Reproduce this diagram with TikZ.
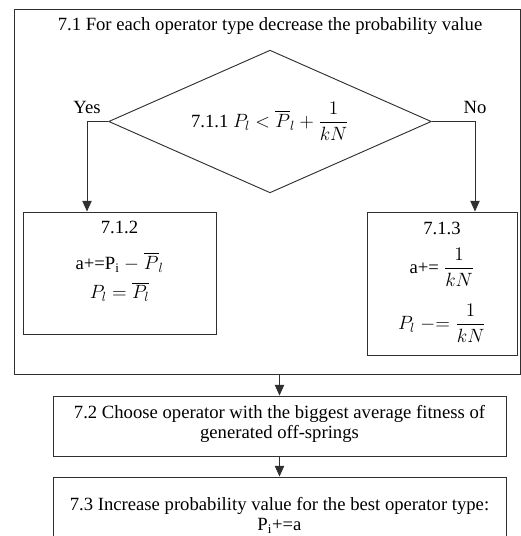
\documentclass[tikz,border=0pt]{standalone}
\usepackage{amsmath}
\usepackage{fontspec}
\setmainfont{Liberation Serif}
\usetikzlibrary{positioning, arrows.meta, shapes.geometric, fit, calc}
\definecolor{lineGrey}{HTML}{303030}

\begin{document}
\begin{tikzpicture}[x=0.75pt, y=-0.75pt, font=\fontsize{14}{15}\selectfont,
    box/.style={draw=lineGrey, line width=0.7pt, inner sep=0pt},
    txt/.style={align=center, inner sep=0pt},
    arr/.style={draw=lineGrey, line width=0.7pt, -{Triangle[length=8pt,width=7pt]}}]
    \useasboundingbox (0,0) rectangle (521,536);
    \clip (0,0) rectangle (521,536);

    % bloc 7.1
    \node[box, fit={(14,9) (520,374)}] (outer) {};
    \node[txt] (title) at (270,26) {7.1 For each operator type decrease the probability value};
    \node[draw=lineGrey, line width=0.7pt, diamond, aspect=2.3, inner sep=0pt,
      minimum width=242pt, minimum height=107pt] (cond) at (270,121.5)
      {7.1.1 $P_l < \overline{P}_l + \dfrac{1}{kN}$};

    % branches
    \node[box, fit={(23,212) (216,334)}] (yesbox) {};
    \node[txt, anchor=north] (yestxt) at (119.5,221)
      {7.1.2\\[12pt] a+=P$_\mathrm{i}$ $-$ $\overline{P}_l$\\[7pt] $P_l = \overline{P_l}$};
    \node[box, fit={(367,212) (517,355)}] (nobox) {};
    \node[txt, anchor=north] (notxt) at (442,222)
      {7.1.3\\[9pt] a+= $\dfrac{1}{kN}$\\[12pt] $P_l\;{-}{=}\;\dfrac{1}{kN}$};

    \coordinate (yescorner) at (87,121.5);
    \coordinate (nocorner) at (475,121.5);
    \draw[arr] (cond.west) -- (yescorner) -- (yescorner |- yesbox.north);
    \draw[arr] (cond.east) -- (nocorner) -- (nocorner |- nobox.north);
    \node[txt, above=6pt of yescorner] (yeslbl) {Yes};
    \node[txt, above=6pt of nocorner] (nolbl) {No};

    % blocs 7.2 et 7.3
    \node[box, fit={(53,396) (506,456)}] (choose) {};
    \node[txt] (choosetxt) at (279.5,424)
      {7.2 Choose operator with the biggest average fitness of\\ generated off-springs};
    \node[box, fit={(53,477) (506,570)}] (incr) {};
    \node[txt, anchor=north] (incrtxt) at (279.5,497)
      {7.3 Increase probability value for the best operator type:\\ P$_\mathrm{i}$+=a};

    \draw[arr] (choose.north |- outer.south) -- (choose.north);
    \draw[arr] (choose.south) -- (incr.north);
\end{tikzpicture}
\end{document}
